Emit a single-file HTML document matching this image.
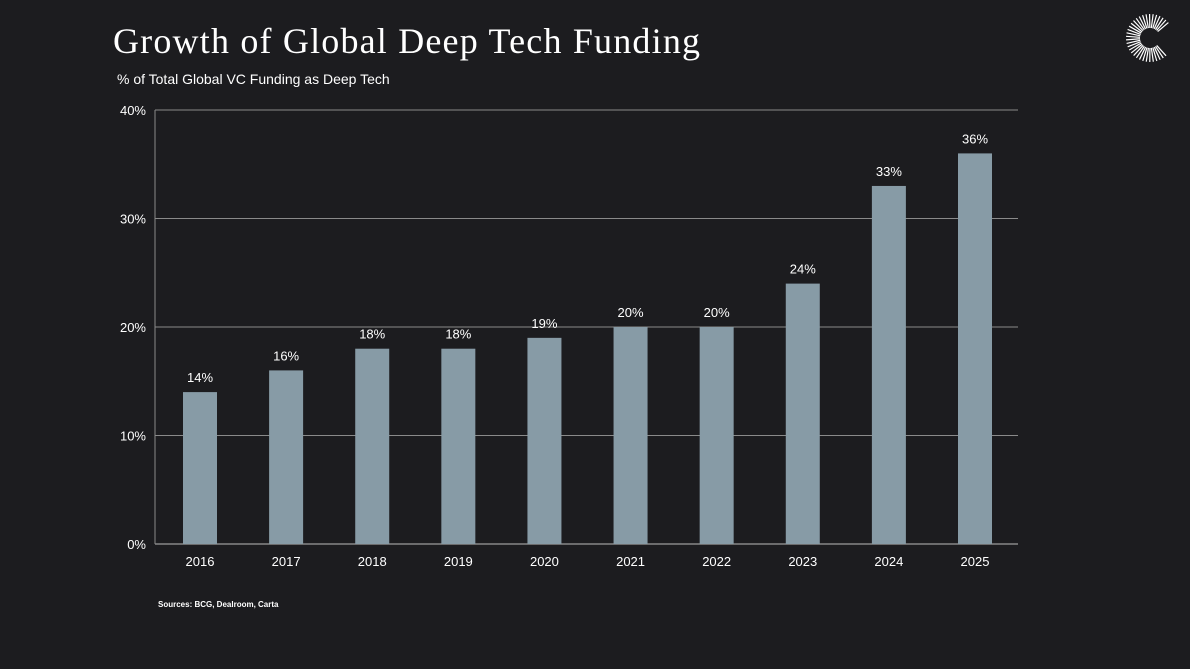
<!DOCTYPE html>
<html><head><meta charset="utf-8"><style>
body{margin:0;background:#1c1c1f;width:1190px;height:669px;overflow:hidden;font-family:"Liberation Sans",sans-serif;color:#fff}
svg{position:absolute;left:0;top:0}
</style></head><body>
<svg width="1190" height="669">
<rect width="1190" height="669" fill="#1c1c1f"/>
<text x="113" y="53" font-family="Liberation Serif, serif" font-size="36" textLength="587" lengthAdjust="spacing" fill="#fff">Growth of  Global  Deep Tech Funding</text>
<text x="117" y="84" font-size="14" fill="#fff">% of Total Global VC Funding as Deep Tech</text>
<text x="158" y="607" font-size="8" font-weight="bold" fill="#fff">Sources: BCG, Dealroom, Carta</text>
<g id="logo"></g>
<g id="grid"></g><g id="bars"></g><g id="labels"></g>
</svg>
<script>
const categories=["2016","2017","2018","2019","2020","2021","2022","2023","2024","2025"];
const values=[14,16,18,18,19,20,20,24,33,36];
const yTicks=[0,10,20,30,40];
const ns="http://www.w3.org/2000/svg";
const L=155,R=1018,T=110,B=544,yMax=40;
const bw=34;
const step=(R-L-88)/(categories.length-1);
const y=v=>B-(v/yMax)*(B-T);
const x=i=>L+45+step*i;
function mk(t,a,p){const e=document.createElementNS(ns,t);for(const k in a)e.setAttribute(k,a[k]);p.appendChild(e);return e;}
const g=document.getElementById('grid'),bg=document.getElementById('bars'),lg=document.getElementById('labels');
yTicks.forEach(t=>{
 const ln=mk('line',{x1:L,x2:R,y1:y(t),y2:y(t),stroke:t===0?'#bbb':'#8a8a8a','stroke-width':1},g);
 
 
 const tx=mk('text',{x:146,y:y(t)+5,'text-anchor':'end','font-size':13,fill:'#fff'},g);
 tx.textContent=t+'%';
 
 
});
mk('line',{x1:L,x2:L,y1:T,y2:B,stroke:'#8a8a8a'},g);
categories.forEach((c,i)=>{
 const r=mk('rect',{x:x(i)-bw/2,y:y(values[i]),width:bw,height:B-y(values[i]),fill:'#879ba6'},bg);
 
 
 const v=mk('text',{x:x(i),y:y(values[i])-10,'text-anchor':'middle','font-size':13,fill:'#fff'},lg);
 v.textContent=values[i]+'%';
 
 
 const t=mk('text',{x:x(i),y:566,'text-anchor':'middle','font-size':13,fill:'#fff'},lg);
 t.textContent=c;
 
 
});
const lo=document.getElementById('logo');
for(let a=40;a<=320;a+=8.5){const r=a*Math.PI/180,cx=1150,cy=38,r1=10,r2=24;
 mk('line',{x1:cx+r1*Math.cos(r),y1:cy-r1*Math.sin(r),x2:cx+r2*Math.cos(r),y2:cy-r2*Math.sin(r),stroke:'#fff','stroke-width':1.2},lo);}
</script>
</body></html>
